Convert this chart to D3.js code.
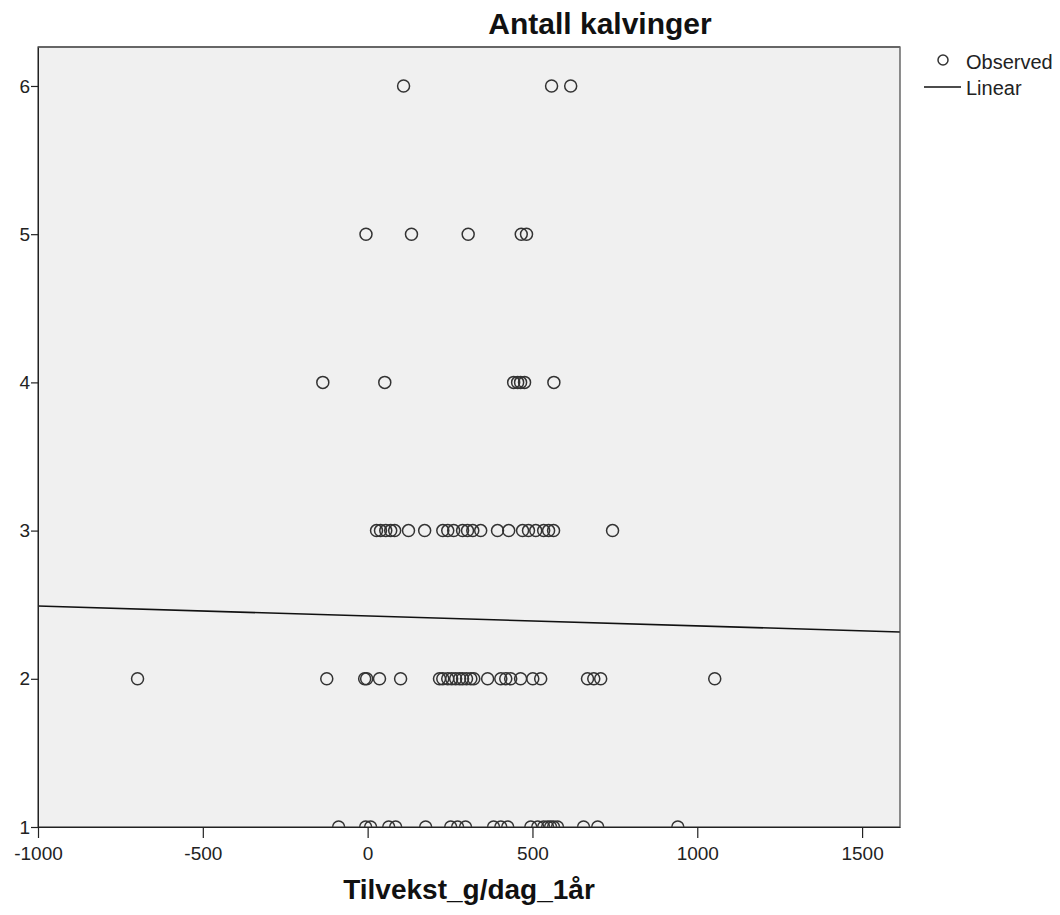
<!DOCTYPE html>
<html>
<head>
<meta charset="utf-8">
<script src="https://cdnjs.cloudflare.com/ajax/libs/d3/7.8.5/d3.min.js"></script>
<style>
  body { margin: 0; background: #fff; }
  text { font-family: "Liberation Sans", Arial, sans-serif; }
</style>
</head>
<body>
<div id="container"></div>
<script>
// observed growth (g/day) grouped by number of calvings
var calvings = [1, 2, 3, 4, 5, 6]
var growth1 = [-88, -6, 9, 64, 85, 176, 252, 273, 297, 382, 404, 425, 495, 516, 534, 546, 555, 564, 576, 655, 698, 941]
var growth2 = [-698, -124, -9, -3, 36, 100, 218, 228, 243, 255, 267, 279, 288, 300, 313, 322, 364, 404, 419, 434, 464, 501, 525, 667, 686, 707, 1053]
var growth3 = [27, 39, 55, 70, 82, 124, 173, 228, 243, 261, 288, 303, 319, 343, 394, 428, 470, 488, 510, 534, 549, 564, 743]
var growth4 = [-136, 52, 443, 455, 464, 476, 565]
var growth5 = [-5, 133, 305, 466, 482]
var growth6 = [109, 558, 616]

// linear fit
var intercept = 2.424
var slope = -0.0000669

var xTicks = [-1000, -500, 0, 500, 1000, 1500]
var yTicks = [1, 2, 3, 4, 5, 6]

var groups = [growth1, growth2, growth3, growth4, growth5, growth6]
var points = []
groups.forEach(function(g, i) {
    g.forEach(function(v) { points.push({x: v, y: calvings[i]}) })
})

var pLeft = 38, pRight = 900, pTop = 47, pBottom = 827

var x = d3.scaleLinear().domain([-1000, 1615]).range([pLeft, pRight])
var y = d3.scaleLinear().domain([1, 6.263]).range([pBottom, pTop])

var svg = d3.select("#container").append("svg")
    .attr("width", 1060)
    .attr("height", 915)

svg.append("defs").append("clipPath")
    .attr("id", "plotclip")
    .append("rect")
    .attr("x", pLeft).attr("y", pTop)
    .attr("width", pRight - pLeft).attr("height", pBottom - pTop)

svg.append("rect")
    .attr("x", pLeft).attr("y", pTop)
    .attr("width", pRight - pLeft).attr("height", pBottom - pTop)
    .attr("fill", "#f0f0f0")

var plot = svg.append("g").attr("clip-path", "url(#plotclip)")

plot.append("line")
    .attr("x1", x(-1000))
    .attr("y1", y(intercept + slope * -1000))
    .attr("x2", x(1615))
    .attr("y2", y(intercept + slope * 1615))
    .attr("stroke", "#111")
    .attr("stroke-width", 1.6)

plot.selectAll("circle")
    .data(points)
    .enter().append("circle")
    .attr("cx", function(d) { return x(d.x) })
    .attr("cy", function(d) { return y(d.y) })
    .attr("r", 6)
    .attr("fill", "none")
    .attr("stroke", "#333")
    .attr("stroke-width", 1.5)

// frame
svg.append("rect")
    .attr("x", pLeft).attr("y", pTop)
    .attr("width", pRight - pLeft).attr("height", pBottom - pTop)
    .attr("fill", "none")
    .attr("stroke", "#444")
    .attr("stroke-width", 1.2)
svg.append("line")
    .attr("x1", pLeft).attr("x2", pRight)
    .attr("y1", pTop).attr("y2", pTop)
    .attr("stroke", "#666").attr("stroke-width", 2)

var fmt = function(d) { return String(d) }

var xAxis = svg.append("g")
    .attr("transform", "translate(0," + pBottom + ")")
    .call(d3.axisBottom(x).tickValues(xTicks).tickSize(11).tickSizeOuter(0).tickFormat(fmt))
xAxis.select(".domain").attr("stroke", "#222")
xAxis.selectAll("line").attr("stroke", "#222").attr("stroke-width", 1.2)
xAxis.selectAll("text").attr("font-size", 19).attr("fill", "#222")
    .attr("y", 33).attr("dy", 0)

var yAxis = svg.append("g")
    .attr("transform", "translate(" + pLeft + ",0)")
    .call(d3.axisLeft(y).tickValues(yTicks).tickSize(7).tickSizeOuter(0).tickPadding(1).tickFormat(fmt))
yAxis.select(".domain").attr("stroke", "#222")
yAxis.selectAll("line").attr("stroke", "#222").attr("stroke-width", 1.2)
yAxis.selectAll("text").attr("font-size", 19).attr("fill", "#222")

svg.append("text")
    .attr("x", 600).attr("y", 34)
    .attr("text-anchor", "middle")
    .attr("font-size", 30).attr("font-weight", "bold")
    .attr("fill", "#111")
    .text("Antall kalvinger")

svg.append("text")
    .attr("x", (pLeft + pRight) / 2).attr("y", 899)
    .attr("text-anchor", "middle")
    .attr("font-size", 28).attr("font-weight", "bold")
    .attr("fill", "#111")
    .text("Tilvekst_g/dag_1år")

// legend
var legend = svg.append("g")
legend.append("circle")
    .attr("cx", 943).attr("cy", 60).attr("r", 5)
    .attr("fill", "none").attr("stroke", "#333").attr("stroke-width", 1.5)
legend.append("text")
    .attr("x", 966).attr("y", 69)
    .attr("font-size", 20).attr("fill", "#222")
    .text("Observed")
legend.append("line")
    .attr("x1", 924).attr("x2", 961)
    .attr("y1", 87).attr("y2", 87)
    .attr("stroke", "#111").attr("stroke-width", 1.6)
legend.append("text")
    .attr("x", 966).attr("y", 95)
    .attr("font-size", 20).attr("fill", "#222")
    .text("Linear")
</script>
</body>
</html>
